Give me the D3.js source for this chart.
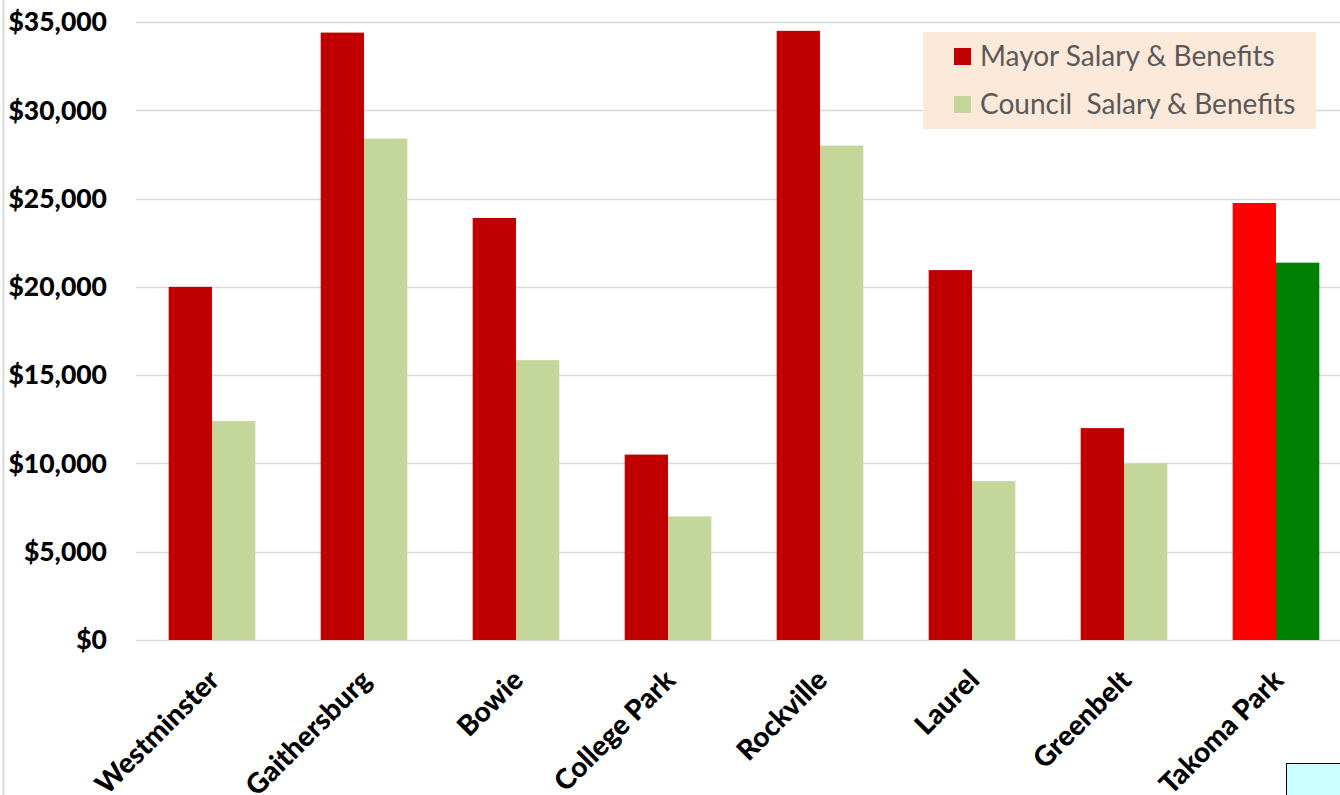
<!DOCTYPE html>
<html><head><meta charset="utf-8">
<script src="https://cdn.jsdelivr.net/npm/d3@7"></script>
<style>body{margin:0;background:#fff;}svg{display:block;}</style>
</head><body>
<svg id="c" width="1340" height="795"></svg>
<script>
const categories = ["Westminster","Gaithersburg","Bowie","College Park","Rockville","Laurel","Greenbelt","Takoma Park"];
const mayor = [20000,34400,23900,10500,34500,20950,12000,24750];
const council = [12400,28400,15850,7000,28000,9000,10000,21370];
const seriesNames = ["Mayor Salary & Benefits","Council  Salary & Benefits"];
const yTicks = [0,5000,10000,15000,20000,25000,30000,35000];

(function(){
const svg = d3.select("#c");
const pLeft = 136, pRight = 1352, pTop = 22, pBottom = 640;
const x = d3.scaleBand().domain(categories).range([pLeft, pRight]).paddingInner(0.43).paddingOuter(0.215);
const xs = d3.scaleBand().domain(["m","c"]).range([0, x.bandwidth()]);
const y = d3.scaleLinear().domain([0,35000]).range([pBottom, pTop]);

svg.append("line").attr("x1",3.5).attr("x2",3.5).attr("y1",0).attr("y2",795).attr("stroke","#d9d9d9").attr("stroke-width",2);

svg.append("g").selectAll("line").data(yTicks).join("line")
  .attr("x1",pLeft).attr("x2",1340).attr("y1",d=>Math.round(y(d))+0.5).attr("y2",d=>Math.round(y(d))+0.5)
  .attr("stroke","#d9d9d9").attr("stroke-width",1.5);

const fmt = d3.format("$,");
svg.append("g").selectAll("text").data(yTicks).join("text")
  .attr("x",107).attr("y",d=>y(d)).attr("dy","0.35em").attr("text-anchor","end")
  .attr("font-family","Lato, 'Open Sans', sans-serif").attr("font-weight","900").attr("font-size",26.5)
  .attr("fill","#000").text(d=>fmt(d));

const mColor = (d,i)=> i===7 ? "#ff0000" : "#c00000";
const cColor = (d,i)=> i===7 ? "#008000" : "#c4d79b";

const g = svg.append("g");
g.selectAll("rect.m").data(mayor).join("rect").attr("class","m")
  .attr("x",(d,i)=>x(categories[i])+xs("m")).attr("width",xs.bandwidth())
  .attr("y",d=>y(d)).attr("height",d=>y(0)-y(d)).attr("fill",mColor);
g.selectAll("rect.c").data(council).join("rect").attr("class","c")
  .attr("x",(d,i)=>x(categories[i])+xs("c")).attr("width",xs.bandwidth())
  .attr("y",d=>y(d)).attr("height",d=>y(0)-y(d)).attr("fill",cColor);

svg.append("g").selectAll("text").data(categories).join("text")
  .attr("transform",d=>`translate(${x(d)+x.bandwidth()/2+2},${pBottom+35}) rotate(-45)`)
  .attr("text-anchor","end").attr("dy","0.35em")
  .attr("font-family","Lato, 'Open Sans', sans-serif").attr("font-weight","900").attr("font-size",28)
  .attr("fill","#000").text(d=>d);

const lg = svg.append("g");
lg.append("rect").attr("x",923).attr("y",32).attr("width",393).attr("height",97).attr("fill","#fde9d9");
seriesNames.forEach((s,i)=>{
  const yy = 56 + i*48;
  lg.append("rect").attr("x",954).attr("y",yy-8).attr("width",17).attr("height",17).attr("fill", i===0?"#c00000":"#c4d79b");
  lg.append("text").attr("x",980).attr("y",yy).attr("dy","0.35em")
    .attr("font-family","Lato, 'Open Sans', sans-serif").attr("font-size",28).attr("fill","#595959")
    .style("white-space","pre").text(s);
});

svg.append("rect").attr("x",1286.5).attr("y",763.5).attr("width",60).attr("height",40).attr("fill","#ccffff").attr("stroke","#000").attr("stroke-width",1);
})();
</script>
</body></html>
